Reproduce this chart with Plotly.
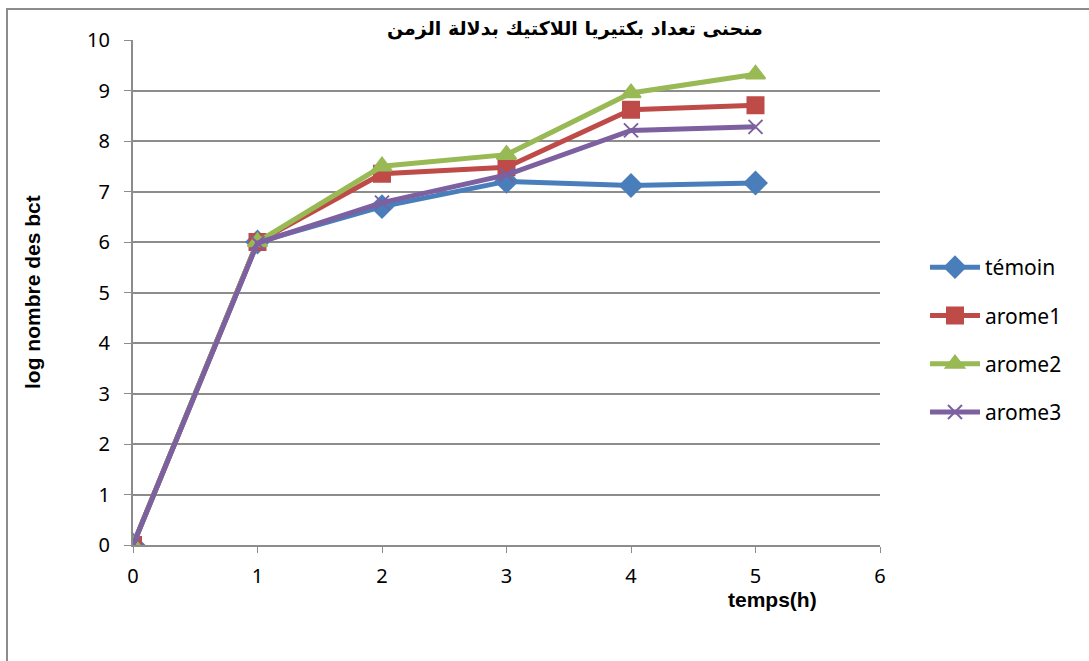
import plotly.graph_objects as go

# Growth curves of lactic acid bacteria over time
temps = [0, 1, 2, 3, 4, 5]
temoin = [0, 6.0, 6.7, 7.2, 7.12, 7.17]
arome1 = [0, 6.0, 7.35, 7.48, 8.62, 8.71]
arome2 = [0, 6.0, 7.5, 7.73, 8.95, 9.32]
arome3 = [0, 5.98, 6.78, 7.33, 8.21, 8.28]

series = [
    ("témoin", temoin, "#4a7ebb", "diamond", 17),
    ("arome1", arome1, "#be4b48", "square", 16),
    ("arome2", arome2, "#98b954", "triangle-up", 17),
    ("arome3", arome3, "#7d60a0", "x-thin", 14),
]

W, H = 1089, 661
L, R, T, B = 133, 209, 40, 116

fig = go.Figure()
for name, ys, color, sym, size in series:
    fig.add_trace(go.Scatter(
        x=temps, y=ys, name=name, legendgroup=name, mode="lines+markers",
        line=dict(color=color, width=5),
        marker=dict(symbol=sym, size=size, color=color,
                    line=dict(color=color, width=2)),
    ))

pw = W - L - R
ph = H - T - B

fig.update_layout(
    width=W, height=H,
    margin=dict(l=L, r=R, t=T, b=B),
    paper_bgcolor="white", plot_bgcolor="white",
    font=dict(family="Noto Sans, Open Sans, sans-serif", size=20, color="black"),
    showlegend=True,
    legend=dict(x=(925 - L) / pw, y=(545 - 247) / ph, xanchor="left", yanchor="top",
                font=dict(size=21), tracegroupgap=18, itemwidth=50,
                bgcolor="rgba(0,0,0,0)"),
    xaxis=dict(range=[0, 6], tickvals=[0, 1, 2, 3, 4, 5, 6], showgrid=False,
               zeroline=False, showline=True, linecolor="#8c8c8c", linewidth=2,
               ticks="outside", ticklen=6, tickcolor="#8c8c8c", tickwidth=1,
               tickfont=dict(size=20), ticklabelstandoff=6),
    yaxis=dict(range=[0, 10], tickvals=list(range(11)), showgrid=True,
               gridcolor="#8c8c8c", gridwidth=1.5, zeroline=False, showline=True,
               linecolor="#8c8c8c", linewidth=2, ticks="outside", ticklen=7,
               tickcolor="#8c8c8c", tickfont=dict(size=20), ticklabelstandoff=10),
    shapes=[dict(type="rect", xref="paper", yref="paper",
                 x0=(7 - L) / pw, x1=(1110 - L) / pw,
                 y0=(545 - 680) / ph, y1=(545 - 9) / ph,
                 line=dict(color="#8c8c8c", width=2), layer="below")],
    annotations=[
        dict(text="<b>منحنى تعداد بكتيريا اللاكتيك بدلالة الزمن</b>",
             xref="paper", yref="paper", x=(575 - L) / pw, y=(545 - 29) / ph,
             showarrow=False, font=dict(family="DejaVu Sans", size=19),
             xanchor="center", yanchor="middle"),
        dict(text="<b>log nombre des bct</b>", textangle=-90,
             xref="paper", yref="paper", x=(32 - L) / pw, y=(545 - 292) / ph,
             showarrow=False, font=dict(family="Liberation Sans, Arial", size=21),
             xanchor="center", yanchor="middle"),
        dict(text="<b>temps(h)</b>",
             xref="paper", yref="paper", x=(772 - L) / pw, y=(545 - 599) / ph,
             showarrow=False, font=dict(family="Liberation Sans, Arial", size=21),
             xanchor="center", yanchor="middle"),
    ],
)

fig.write_html("out.html")
